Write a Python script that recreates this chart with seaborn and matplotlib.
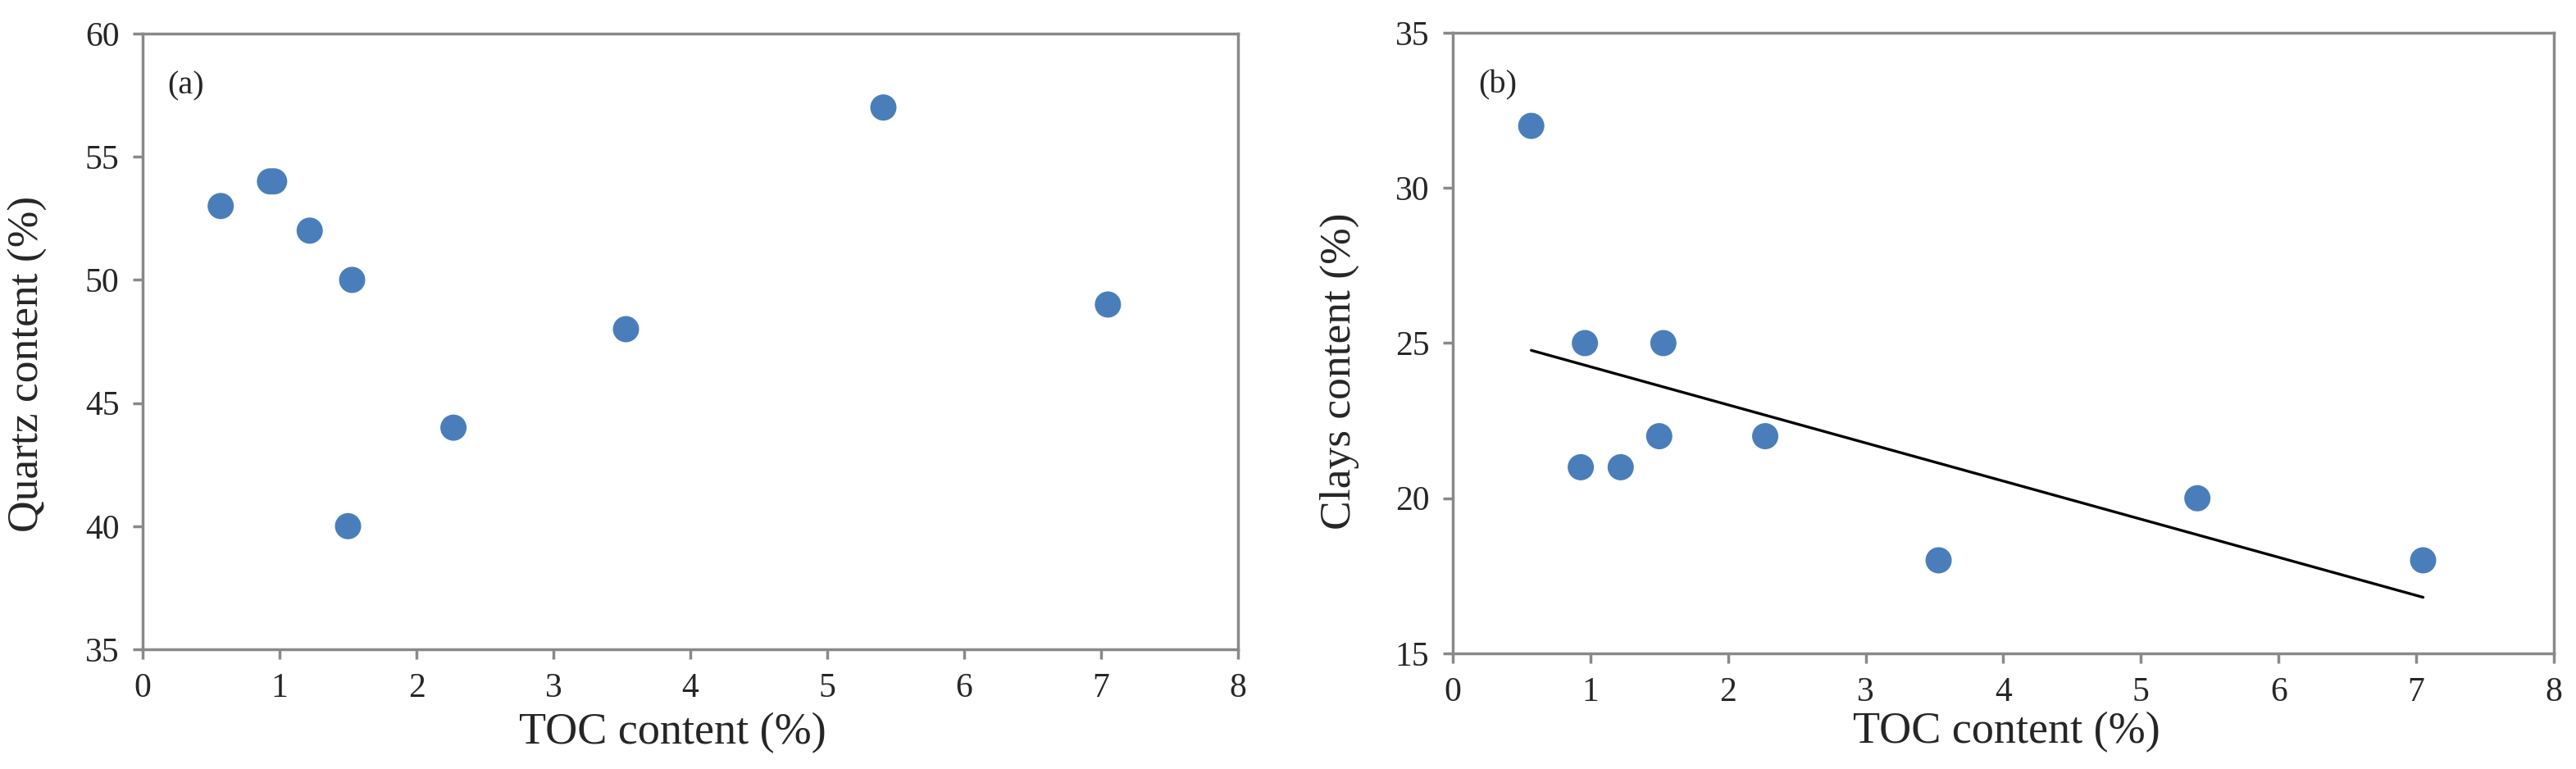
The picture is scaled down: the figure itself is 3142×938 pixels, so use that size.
import numpy as np
import pandas as pd
import matplotlib
matplotlib.use('Agg')
import matplotlib.pyplot as plt
import seaborn as sns

toc = [0.57, 0.93, 0.96, 1.22, 1.50, 1.53, 2.27, 3.53, 5.41, 7.05]
quartz = [53, 54, 54, 52, 40, 50, 44, 48, 57, 49]
clays = [32, 21, 25, 21, 22, 25, 22, 18, 20, 18]

df = pd.DataFrame({'TOC': toc, 'Quartz': quartz, 'Clays': clays})

sns.set_style('white')
plt.rcParams['font.family'] = ['Liberation Serif', 'DejaVu Serif']

dot_color = '#4a7ebb'
spine_color = '#898989'

fig = plt.figure(figsize=(31.42, 9.38), dpi=100)
ax_a = fig.add_axes([0.05538, 0.15565, 0.42521, 0.80064])
ax_b = fig.add_axes([0.56397, 0.15032, 0.42743, 0.80704])

sns.scatterplot(data=df, x='TOC', y='Quartz', ax=ax_a, color=dot_color,
                s=530, edgecolor='none', zorder=3)
sns.scatterplot(data=df, x='TOC', y='Clays', ax=ax_b, color=dot_color,
                s=530, edgecolor='none', zorder=3)
# linear trend for clays vs TOC
sns.regplot(data=df, x='TOC', y='Clays', ax=ax_b, ci=None, scatter=False,
            line_kws={'color': 'black', 'lw': 2.4, 'zorder': 2})

panels = [
    (ax_a, 'Quartz content (%)', (35, 60), '(a)', (-0.1048, 0.463), (0.484, -0.136)),
    (ax_b, 'Clays content (%)', (15, 35), '(b)', (-0.1028, 0.455), (0.503, -0.127)),
]
for ax, ylab, ylim, tag, ylab_xy, xlab_xy in panels:
    ax.set_xlim(0, 8)
    ax.set_ylim(*ylim)
    ax.set_xticks(range(0, 9))
    ax.set_yticks(range(ylim[0], ylim[1] + 1, 5))
    ax.set_xlabel('TOC content (%)', fontsize=39, va='center')
    ax.set_ylabel(ylab, fontsize=38.5, va='center')
    ax.xaxis.set_label_coords(*xlab_xy)
    ax.yaxis.set_label_coords(*ylab_xy)
    ax.tick_params(axis='both', which='both', direction='out', length=8.6,
                   width=2.5, color=spine_color, labelsize=30, pad=12,
                   bottom=True, left=True, top=False, right=False)
    for sp in ax.spines.values():
        sp.set_visible(True)
        sp.set_color(spine_color)
        sp.set_linewidth(2.5)
    ax.text(0.023, 0.915, tag, transform=ax.transAxes, fontsize=29,
            ha='left', va='center')
    ax.grid(False)

fig.savefig('out.png', dpi=100)
